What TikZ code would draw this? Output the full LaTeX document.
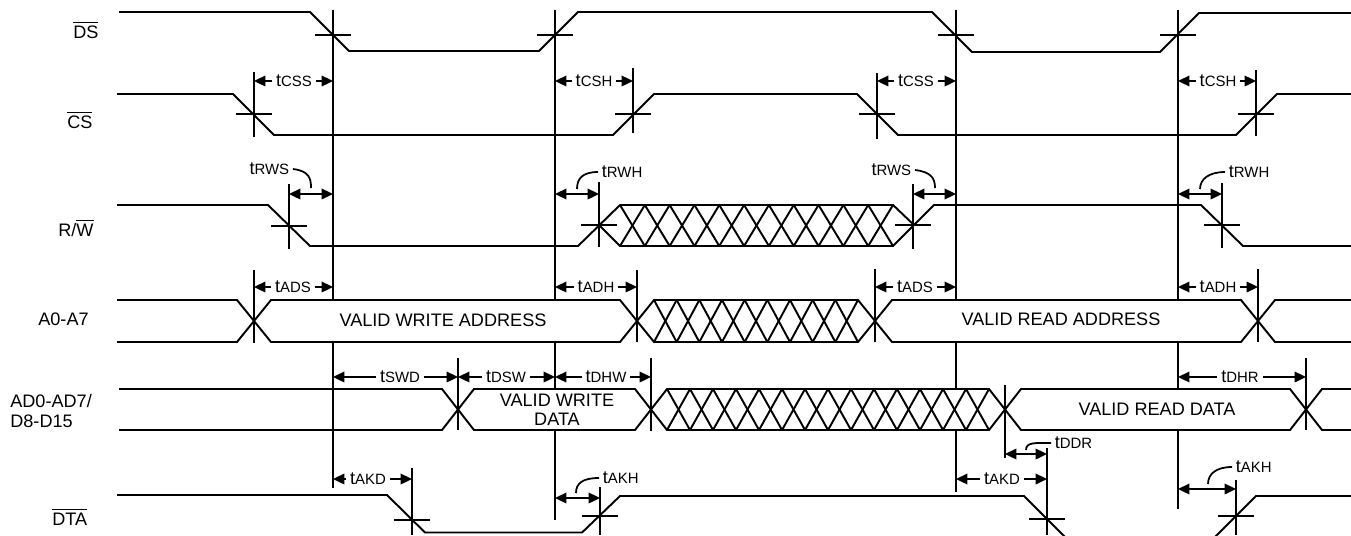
\documentclass[tikz,border=0pt]{standalone}
\usepackage{fontspec}
\setmainfont{Liberation Sans}
\usetikzlibrary{arrows.meta,positioning}

\newcommand{\tsub}[1]{t{\fontsize{8.5}{9}\selectfont #1}}
\newcommand{\ovl}[1]{\vbox{\hrule height 0.7pt\kern 1.3pt\hbox{#1}}}
\newcommand{\busseg}[5]{%
  \draw[sig] (#1,{(#4+#5)/2}) -- ({#1+#3},#4) -- ({#2-#3},#4) -- (#2,{(#4+#5)/2})
    -- ({#2-#3},#5) -- ({#1+#3},#5) -- cycle;}
\newcommand{\hatch}[5]{%
  \foreach \i in {1,...,#3}{
    \draw[sig] ({#1+(\i-1)*(#2-#1)/#3},#4) -- ({#1+\i*(#2-#1)/#3},#5);
    \draw[sig] ({#1+(\i-1)*(#2-#1)/#3},#5) -- ({#1+\i*(#2-#1)/#3},#4);
  }}
\newcommand{\xcross}[2]{\draw[sig] ({#1-18},#2) -- ({#1+18},#2);}

\begin{document}
\begin{tikzpicture}[
  x=0.02cm, y=-0.02cm,
  every node/.style={font=\fontsize{10.3}{11}\selectfont, inner sep=2pt},
  sig/.style={line width=1.1pt},
  lab/.style={inner sep=0pt, anchor=base west},
  dim/.style={line width=1.1pt, -{Triangle[length=6.5pt,width=6pt]}},
  dimm/.style={line width=1.1pt, {Triangle[length=6.5pt,width=6pt]}-{Triangle[length=6.5pt,width=6pt]}},
  hook/.style={line width=1pt}
]
  \useasboundingbox (0,0) rectangle (1351,535);
  \clip (0,0) rectangle (1351,535);

  \node[lab] (nds) at (73,38) {\ovl{DS}};
  \node[lab] (ncs) at (67,128) {\ovl{CS}};
  \node[lab] (nrw) at (58,236) {R/\ovl{W}};
  \node[lab] (nadr) at (38,325) {A0-A7};
  \node[inner sep=0pt, anchor=west, align=left] (ndat) at (10,411) {AD0-AD7/\\D8-D15};
  \node[lab] (ndta) at (52,525) {\ovl{DTA}};

  % signals
  \draw[sig] (119,12) -- (310,12) -- (349,51) -- (539,51) -- (578,12) -- (932,12)
    -- (972,52) -- (1160,52) -- (1199,13) -- (1351,13);
  \draw[sig] (117,94) -- (233,94) -- (274,135) -- (613,135) -- (654,94) -- (857,94)
    -- (898,135) -- (1236,135) -- (1277,94) -- (1351,94);
  \draw[sig] (117,205) -- (268,205) -- (310,246) -- (578,246) -- (620,205) -- (893,205) -- (914,225);
  \draw[sig] (599,225) -- (620,246) -- (893,246) -- (934,205) -- (1201,205) -- (1243,246) -- (1351,246);
  \hatch{620}{893}{11}{205}{246}

  \draw[sig] (117,300) -- (237,300) -- (254,321) -- (237,342) -- (117,342);
  \busseg{254}{637}{17}{300}{342}
  \busseg{637}{875}{17}{300}{342}
  \hatch{654}{858}{9}{300}{342}
  \busseg{875}{1258}{17}{300}{342}
  \draw[sig] (1351,300) -- (1275,300) -- (1258,321) -- (1275,342) -- (1351,342);

  \draw[sig] (119,389) -- (442,389) -- (458,409.5) -- (442,430) -- (119,430);
  \busseg{458}{651}{16}{389}{430}
  \busseg{651}{1005}{16}{389}{430}
  \hatch{667}{989}{14}{389}{430}
  \busseg{1005}{1306}{16}{389}{430}
  \draw[sig] (1351,389) -- (1322,389) -- (1306,409.5) -- (1322,430) -- (1351,430);

  \draw[sig] (117,495) -- (387,495) -- (425,532.5) -- (582,532.5) -- (620,496) -- (1024,496)
    -- (1068,540) -- (1212,540) -- (1256,496) -- (1351,496);

  \node (wadr) at (443,320) {VALID WRITE ADDRESS};
  \node (radr) at (1061,319) {VALID READ ADDRESS};
  \node[align=center] (wdat) at (557,410) {VALID WRITE\\DATA};
  \node (rdat) at (1157,409) {VALID READ DATA};

  % reference lines, broken inside the valid bus phases
  \draw[sig] (333,10) -- (333,300) (333,342) -- (333,488);
  \draw[sig] (555,10) -- (555,300) (555,342) -- (555,389) (555,430) -- (555,520);
  \draw[sig] (956,10) -- (956,300) (956,342) -- (956,389) (956,430) -- (956,492);
  \draw[sig] (1178,10) -- (1178,300) (1178,342) -- (1178,389) (1178,430) -- (1178,509);
  \foreach \x/\a/\b in {254/72/137, 633/68/133, 877/73/139, 1256/70/136,
    289/184/249, 599/182/247, 913/184/249, 1222/183/248,
    254/270/343, 637/270/342, 875/269/342, 1258/269/342,
    458/358/430, 651/358/431, 1005/385/458, 1306/358/430,
    412/468/535, 600/487/535, 1047/448/535, 1236/480/535}
    \draw[sig] (\x,\a) -- (\x,\b);
  \foreach \x/\y in {333/35, 555/35, 956/35, 1178/35, 254/114, 633/114, 877/114, 1256/114,
    289/226, 599/225, 913/225, 1222/225, 412/520, 600/516, 1047/519, 1236/516}
    {\xcross{\x}{\y}}

  % timing labels
  \foreach \n/\a/\b/\c/\y/\t in {
    css1/254/333/294/81/CSS, csh1/555/633/594/81/CSH,
    css2/877/956/916/81/CSS, csh2/1178/1256/1218/81/CSH,
    ads1/254/333/293/287/ADS, adh1/555/637/596/287/ADH,
    ads2/875/956/915/287/ADS, adh2/1178/1258/1218/287/ADH,
    swd/333/458/400/377/SWD, dsw/458/555/506/377/DSW,
    dhw/555/651/606/377/DHW, dhr/1178/1306/1240/377/DHR,
    akd1/333/412/368/479/AKD, akd2/956/1047/1002/479/AKD}{
    \node (\n) at (\c,\y) {\tsub{\t}};
    \draw[dim] (\n.west) -- (\a,\y);
    \draw[dim] (\n.east) -- (\b,\y);
  }

  \node[anchor=east] (rws1) at (293,169) {\tsub{RWS}};
  \draw[hook] (rws1.east) .. controls +(16,2) and +(0,-10) .. (311,188);
  \draw[dimm] (289,194) -- (333,194);
  \node[anchor=west] (rwh1) at (598,172) {\tsub{RWH}};
  \draw[hook] (rwh1.west) .. controls +(-16,0) and +(0,-10) .. (577,189);
  \draw[dimm] (555,194) -- (599,194);
  \node[anchor=east] (rws2) at (915,170) {\tsub{RWS}};
  \draw[hook] (rws2.east) .. controls +(16,2) and +(0,-10) .. (935,188);
  \draw[dimm] (913,194) -- (956,194);
  \node[anchor=west] (rwh2) at (1225,172) {\tsub{RWH}};
  \draw[hook] (rwh2.west) .. controls +(-16,0) and +(0,-10) .. (1200,189);
  \draw[dimm] (1178,194) -- (1222,194);
  \node[anchor=west] (ddr) at (1051,443) {\tsub{DDR}};
  \draw[hook] (ddr.west) .. controls +(-16,0) and +(0,-8) .. (1026,450);
  \draw[dimm] (1005,454) -- (1047,454);
  \node[anchor=west] (akh1) at (599,478) {\tsub{AKH}};
  \draw[hook] (akh1.west) .. controls +(-16,0) and +(0,-10) .. (576,493);
  \draw[dimm] (555,498) -- (600,498);
  \node[anchor=west] (akh2) at (1232,467) {\tsub{AKH}};
  \draw[hook] (akh2.west) .. controls +(-16,0) and +(0,-10) .. (1208,484);
  \draw[dimm] (1178,489) -- (1236,489);
\end{tikzpicture}
\end{document}
